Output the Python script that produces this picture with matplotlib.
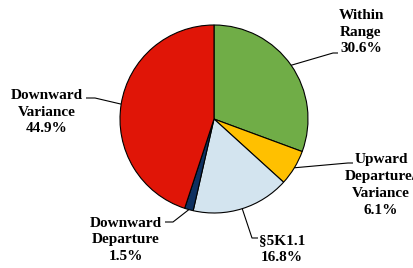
import numpy as np
import matplotlib
matplotlib.use("Agg")
import matplotlib.pyplot as plt

categories = ["Within\nRange", "Upward\nDeparture/\nVariance", "§5K1.1",
              "Downward\nDeparture", "Downward\nVariance"]
values = [30.6, 6.1, 16.8, 1.5, 44.9]
pct_labels = ["30.6%", "6.1%", "16.8%", "1.5%", "44.9%"]
colors = ["#70AD47", "#FFC000", "#D3E4EF", "#0E3060", "#E01507"]

W, H = 414, 268
CX, CY, R = 214, 119, 94  # pie center / radius in pixels

fig = plt.figure(figsize=(W / 100, H / 100), dpi=100)
ax = fig.add_axes([0, 0, 1, 1])

wedges, _ = ax.pie(values, colors=colors, startangle=90, counterclock=False,
                   radius=1, center=(0, 0), normalize=True,
                   wedgeprops=dict(edgecolor="black", linewidth=0.8))
ax.set_xlim(-CX / R, (W - CX) / R)
ax.set_ylim(-(H - CY) / R, CY / R)
ax.set_aspect("equal")
ax.axis("off")

def p(px, py):
    return ((px - CX) / R, (CY - py) / R)

# label text centers (px), elbow point, horizontal end
label_pos = [(361, 32), (381, 185), (282, 249), (126, 240), (47, 112)]
elbows = [(333, 53), (348, 163), (252, 238), (173, 222), (95, 98)]
ends = [(338, 53), (353, 163), (258, 238), (165, 222), (86, 98)]

for w, cat, pct, lp, el, en in zip(wedges, categories, pct_labels, label_pos, elbows, ends):
    ang = np.deg2rad((w.theta1 + w.theta2) / 2)
    sx, sy = np.cos(ang), np.sin(ang)
    ex, ey = p(*el)
    fx, fy = p(*en)
    ax.plot([sx, ex, fx], [sy, ey, fy], color="black", lw=0.8, solid_capstyle="butt")
    tx, ty = p(*lp)
    ax.text(tx, ty, cat + "\n" + pct, ha="center", va="center",
            family="Liberation Serif", fontweight="bold", fontsize=11,
            linespacing=1.38, clip_on=False)

fig.savefig("out.png", dpi=100)
